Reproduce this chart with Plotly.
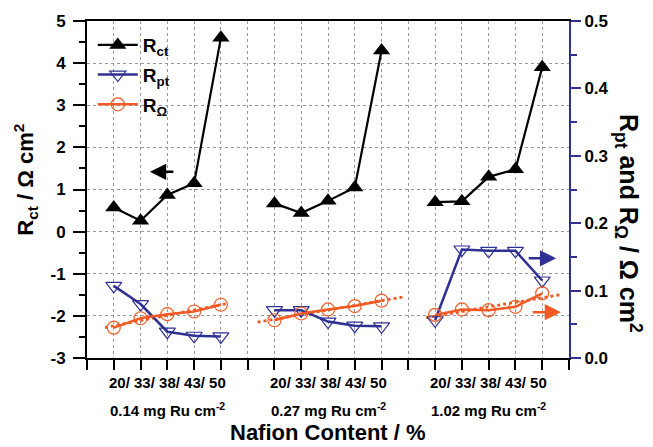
import numpy as np
import plotly.graph_objects as go

# ---- data ----
nafion = ["20", "33", "38", "43", "50"]
loadings = ["0.14", "0.27", "1.02"]
rct = [[0.57, 0.26, 0.87, 1.15, 4.60],
       [0.67, 0.44, 0.73, 1.05, 4.30],
       [0.70, 0.72, 1.30, 1.48, 3.90]]
rpt = [[0.107, 0.080, 0.039, 0.033, 0.032],
       [0.071, 0.071, 0.054, 0.048, 0.047],
       [0.056, 0.161, 0.159, 0.159, 0.115]]
rohm = [[0.045, 0.059, 0.065, 0.069, 0.079],
        [0.056, 0.066, 0.072, 0.077, 0.085],
        [0.064, 0.072, 0.071, 0.076, 0.096]]
trend_ext = [(0.67, 5.22), (6.37, 11.78), (12.67, 17.74)]
left_ticks = [-3, -2, -1, 0, 1, 2, 3, 4, 5]
right_ticks = [0.0, 0.1, 0.2, 0.3, 0.4, 0.5]

BLUE = "#2E3192"
ORANGE = "#F15A24"
FONT = "Liberation Sans"

# positions: groups of 5 separated by an empty slot
pos = [[g * 6 + i + 1 for i in range(5)] for g in range(3)]

def joined(vals):
    xs, ys = [], []
    for g in range(3):
        xs += pos[g] + [None]
        ys += list(vals[g]) + [None]
    return xs, ys

def bold(size):
    return dict(size=size, family=FONT, color="black", weight="bold")

fig = go.Figure()

# trend lines for R_ohm
for g in range(3):
    k, b = np.polyfit(pos[g], rohm[g], 1)
    x0, x1 = trend_ext[g]
    fig.add_trace(go.Scatter(x=[x0, x1], y=[k * x0 + b, k * x1 + b], yaxis="y2",
                             mode="lines", line=dict(color=ORANGE, width=2.8, dash="dot"),
                             showlegend=False, hoverinfo="skip"))

x, y = joined(rct)
fig.add_trace(go.Scatter(x=x, y=y, name="R<sub>ct</sub>", mode="lines+markers", legendgroup="a",
                         line=dict(color="black", width=2.2),
                         marker=dict(symbol="triangle-up", size=15, color="black")))
x, y = joined(rpt)
fig.add_trace(go.Scatter(x=x, y=y, name="R<sub>pt</sub>", mode="lines+markers", yaxis="y2",
                         legendgroup="b",
                         line=dict(color=BLUE, width=2.5),
                         marker=dict(symbol="triangle-down-open", size=14, color=BLUE,
                                     line=dict(width=1.2, color=BLUE))))
x, y = joined(rohm)
fig.add_trace(go.Scatter(x=x, y=y, name="R<sub>Ω</sub>", mode="lines+markers", yaxis="y2",
                         legendgroup="c",
                         line=dict(color=ORANGE, width=2.5),
                         marker=dict(symbol="circle-open", size=13, color=ORANGE,
                                     line=dict(width=1.2, color=ORANGE))))

ann = []
for g in range(3):
    cx = float(np.mean(pos[g]))
    ann.append(dict(x=cx, y=-0.074, xref="x", yref="paper", showarrow=False,
                    xanchor="center", yanchor="middle",
                    text="/ ".join(nafion), font=bold(15)))
    ann.append(dict(x=cx, y=-0.154, xref="x", yref="paper", showarrow=False,
                    xanchor="center", yanchor="middle",
                    text=loadings[g] + " mg Ru cm<sup>-2</sup>", font=bold(15)))
ann.append(dict(x=0.5, y=-0.222, xref="paper", yref="paper", showarrow=False,
                xanchor="center", yanchor="middle",
                text="Nafion Content / %", font=bold(22)))
ann.append(dict(x=-0.128, y=0.53, xref="paper", yref="paper", showarrow=False, textangle=-90,
                xanchor="center", yanchor="middle",
                text="R<sub>ct</sub> / Ω cm<sup>2</sup>", font=bold(22)))
ann.append(dict(x=1.123, y=0.40, xref="paper", yref="paper", showarrow=False, textangle=90,
                xanchor="center", yanchor="middle",
                text="R<sub>pt</sub> and R<sub>Ω</sub> / Ω cm<sup>2</sup>", font=bold(25)))
# arrows
ann.append(dict(x=2.35, y=1.42, ax=3.28, ay=1.42, xref="x", yref="y", axref="x", ayref="y",
                showarrow=True, arrowhead=2, arrowsize=1.3, arrowwidth=2.5, arrowcolor="black", text=""))
ann.append(dict(x=17.52, y=0.148, ax=16.44, ay=0.148, xref="x", yref="y2", axref="x", ayref="y2",
                showarrow=True, arrowhead=2, arrowsize=1.3, arrowwidth=2.5, arrowcolor=BLUE, text=""))
ann.append(dict(x=17.7, y=0.068, ax=16.59, ay=0.068, xref="x", yref="y2", axref="x", ayref="y2",
                showarrow=True, arrowhead=2, arrowsize=1.3, arrowwidth=2.5, arrowcolor=ORANGE, text=""))

# page body has an 8px margin, so the figure is drawn 8px smaller and offset
fig.update_layout(
    width=645, height=439,
    margin=dict(l=79, r=84, t=13, b=89, autoexpand=False),
    plot_bgcolor="white", paper_bgcolor="white",
    font=dict(family=FONT, color="black"),
    annotations=ann,
    legend=dict(x=0.012, y=0.985, xanchor="left", yanchor="top", bgcolor="rgba(0,0,0,0)",
                font=bold(19), tracegroupgap=2, itemwidth=40),
    xaxis=dict(range=[0, 18], dtick=1, tick0=0, showticklabels=False,
               ticks="outside", ticklen=10, tickwidth=2, tickcolor="black",
               showline=True, linewidth=2, linecolor="black", mirror=True,
               showgrid=True, gridcolor="#999999", griddash="dot", gridwidth=1, zeroline=False),
    yaxis=dict(range=[-3, 5], tickmode="array", tickvals=left_ticks,
               ticktext=[str(v) for v in left_ticks],
               ticks="outside", ticklen=12, tickwidth=2, tickcolor="black",
               showline=True, linewidth=2, linecolor="black",
               showgrid=True, gridcolor="#999999", griddash="dot", gridwidth=1, zeroline=False,
               tickfont=bold(17), ticklabelstandoff=4,
               minor=dict(ticks="outside", ticklen=6, tickwidth=2, tickcolor="black", dtick=0.5, showgrid=False)),
    yaxis2=dict(range=[0, 0.5], tickmode="array", tickvals=right_ticks,
                ticktext=[f"{v:.1f}" for v in right_ticks], overlaying="y", side="right",
                ticks="outside", ticklen=10, tickwidth=2, tickcolor=BLUE,
                showline=True, linewidth=2, linecolor=BLUE, showgrid=False, zeroline=False,
                tickfont=bold(17),
                minor=dict(ticks="outside", ticklen=6, tickwidth=2, tickcolor=BLUE, dtick=0.05)),
)

fig.write_html("out.html")
